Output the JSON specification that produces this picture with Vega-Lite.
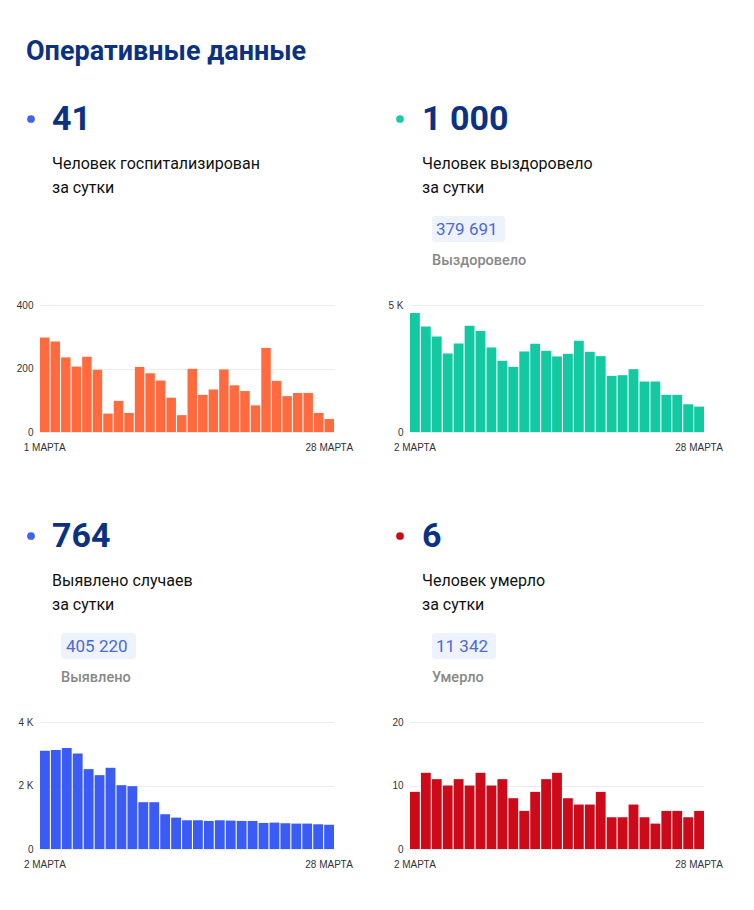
{
  "$schema": "https://vega.github.io/schema/vega-lite/v6.json",
  "background": "white",
  "padding": {"left": 16, "top": 38, "right": 0, "bottom": 0},
  "title": {"text": "Оперативные данные", "anchor": "start", "frame": "group", "font": "Roboto", "fontSize": 27, "fontWeight": "bold", "color": "#0b3282", "offset": 30, "dx": -14},
  "config": {
    "view": {"stroke": null},
    "axis": {"labelFont": "Liberation Sans", "labelFontSize": 10, "labelColor": "#333333", "domain": false, "ticks": false, "title": null, "gridColor": "#ececec", "labelOverlap": false}
  },
  "datasets": {
    "kpi": [
      {"metric": "hosp", "value": "41", "line1": "Человек госпитализирован", "line2": "за сутки", "total": "", "caption": ""},
      {"metric": "recov", "value": "1 000", "line1": "Человек выздоровело", "line2": "за сутки", "total": "379 691", "caption": "Выздоровело"},
      {"metric": "cases", "value": "764", "line1": "Выявлено случаев", "line2": "за сутки", "total": "405 220", "caption": "Выявлено"},
      {"metric": "deaths", "value": "6", "line1": "Человек умерло", "line2": "за сутки", "total": "11 342", "caption": "Умерло"}
    ],
    "hosp": [
      {"day": 1, "v": 298}, {"day": 2, "v": 285}, {"day": 3, "v": 235}, {"day": 4, "v": 206}, {"day": 5, "v": 237}, {"day": 6, "v": 196}, {"day": 7, "v": 58},
      {"day": 8, "v": 98}, {"day": 9, "v": 60}, {"day": 10, "v": 205}, {"day": 11, "v": 185}, {"day": 12, "v": 162}, {"day": 13, "v": 108}, {"day": 14, "v": 53},
      {"day": 15, "v": 199}, {"day": 16, "v": 117}, {"day": 17, "v": 134}, {"day": 18, "v": 197}, {"day": 19, "v": 147}, {"day": 20, "v": 129}, {"day": 21, "v": 84},
      {"day": 22, "v": 265}, {"day": 23, "v": 161}, {"day": 24, "v": 113}, {"day": 25, "v": 123}, {"day": 26, "v": 123}, {"day": 27, "v": 60}, {"day": 28, "v": 41}
    ],
    "recov": [
      {"day": 2, "v": 4684}, {"day": 3, "v": 4158}, {"day": 4, "v": 3763}, {"day": 5, "v": 3092}, {"day": 6, "v": 3487}, {"day": 7, "v": 4184}, {"day": 8, "v": 3974},
      {"day": 9, "v": 3329}, {"day": 10, "v": 2803}, {"day": 11, "v": 2566}, {"day": 12, "v": 3171}, {"day": 13, "v": 3474}, {"day": 14, "v": 3197}, {"day": 15, "v": 2974},
      {"day": 16, "v": 3079}, {"day": 17, "v": 3592}, {"day": 18, "v": 3158}, {"day": 19, "v": 2987}, {"day": 20, "v": 2211}, {"day": 21, "v": 2237}, {"day": 22, "v": 2474},
      {"day": 23, "v": 1987}, {"day": 24, "v": 1987}, {"day": 25, "v": 1461}, {"day": 26, "v": 1461}, {"day": 27, "v": 1092}, {"day": 28, "v": 1000}
    ],
    "cases": [
      {"day": 2, "v": 3095}, {"day": 3, "v": 3116}, {"day": 4, "v": 3179}, {"day": 5, "v": 3011}, {"day": 6, "v": 2516}, {"day": 7, "v": 2326}, {"day": 8, "v": 2558},
      {"day": 9, "v": 2011}, {"day": 10, "v": 1979}, {"day": 11, "v": 1474}, {"day": 12, "v": 1474}, {"day": 13, "v": 1095}, {"day": 14, "v": 989}, {"day": 15, "v": 905},
      {"day": 16, "v": 905}, {"day": 17, "v": 884}, {"day": 18, "v": 905}, {"day": 19, "v": 895}, {"day": 20, "v": 884}, {"day": 21, "v": 884}, {"day": 22, "v": 821},
      {"day": 23, "v": 832}, {"day": 24, "v": 811}, {"day": 25, "v": 800}, {"day": 26, "v": 800}, {"day": 27, "v": 779}, {"day": 28, "v": 764}
    ],
    "deaths": [
      {"day": 2, "v": 9}, {"day": 3, "v": 12}, {"day": 4, "v": 11}, {"day": 5, "v": 10}, {"day": 6, "v": 11}, {"day": 7, "v": 10}, {"day": 8, "v": 12},
      {"day": 9, "v": 10}, {"day": 10, "v": 11}, {"day": 11, "v": 8}, {"day": 12, "v": 6}, {"day": 13, "v": 9}, {"day": 14, "v": 11}, {"day": 15, "v": 12},
      {"day": 16, "v": 8}, {"day": 17, "v": 7}, {"day": 18, "v": 7}, {"day": 19, "v": 9}, {"day": 20, "v": 5}, {"day": 21, "v": 5}, {"day": 22, "v": 7},
      {"day": 23, "v": 5}, {"day": 24, "v": 4}, {"day": 25, "v": 6}, {"day": 26, "v": 6}, {"day": 27, "v": 5}, {"day": 28, "v": 6}
    ]
  },
  "bounds": "flush",
  "align": "each",
  "columns": 2,
  "spacing": {"row": 19, "column": 76},
  "concat": [
    {
      "width": 294, "height": 190,
      "data": {"name": "kpi"},
      "transform": [{"filter": "datum.metric == 'hosp'"}],
      "layer": [
        {"mark": {"type": "point", "filled": true, "opacity": 1, "size": 60, "color": "#3f63ea"}, "encoding": {"x": {"value": -9}, "y": {"value": 23}}},
        {"mark": {"type": "text", "font": "Roboto", "fontSize": 34, "fontWeight": "bold", "color": "#0b3282", "align": "left", "baseline": "alphabetic"}, "encoding": {"x": {"value": 12}, "y": {"value": 34}, "text": {"field": "value"}}},
        {"mark": {"type": "text", "font": "Roboto", "fontSize": 16, "color": "#111111", "align": "left", "baseline": "alphabetic"}, "encoding": {"x": {"value": 12}, "y": {"value": 73}, "text": {"field": "line1"}}},
        {"mark": {"type": "text", "font": "Roboto", "fontSize": 16, "color": "#111111", "align": "left", "baseline": "alphabetic"}, "encoding": {"x": {"value": 12}, "y": {"value": 97}, "text": {"field": "line2"}}}
      ]
    },
    {
      "width": 294, "height": 190,
      "data": {"name": "kpi"},
      "transform": [{"filter": "datum.metric == 'recov'"}],
      "layer": [
        {"mark": {"type": "point", "filled": true, "opacity": 1, "size": 60, "color": "#1ec9a6"}, "encoding": {"x": {"value": -10}, "y": {"value": 23}}},
        {"mark": {"type": "text", "font": "Roboto", "fontSize": 34, "fontWeight": "bold", "color": "#0b3282", "align": "left", "baseline": "alphabetic"}, "encoding": {"x": {"value": 12}, "y": {"value": 34}, "text": {"field": "value"}}},
        {"mark": {"type": "text", "font": "Roboto", "fontSize": 16, "color": "#111111", "align": "left", "baseline": "alphabetic"}, "encoding": {"x": {"value": 12}, "y": {"value": 73}, "text": {"field": "line1"}}},
        {"mark": {"type": "text", "font": "Roboto", "fontSize": 16, "color": "#111111", "align": "left", "baseline": "alphabetic"}, "encoding": {"x": {"value": 12}, "y": {"value": 97}, "text": {"field": "line2"}}},
        {"mark": {"type": "rect", "color": "#eef2fc", "cornerRadius": 3}, "encoding": {"x": {"value": 22}, "x2": {"value": 95}, "y": {"value": 120}, "y2": {"value": 146}}},
        {"mark": {"type": "text", "font": "Roboto", "fontSize": 17, "color": "#4a6ad6", "align": "left", "baseline": "alphabetic"}, "encoding": {"x": {"value": 26}, "y": {"value": 139}, "text": {"field": "total"}}},
        {"mark": {"type": "text", "font": "Roboto", "fontSize": 14.5, "fontWeight": 500, "color": "#888888", "align": "left", "baseline": "alphabetic"}, "encoding": {"x": {"value": 22}, "y": {"value": 169}, "text": {"field": "caption"}}}
      ]
    },
    {
      "width": 294, "height": 127,
      "data": {"name": "hosp"},
      "mark": {"type": "bar", "color": "#ff6a3f"},
      "encoding": {
        "x": {"field": "day", "type": "ordinal", "scale": {"paddingInner": 0.1, "paddingOuter": 0}, "axis": {"values": [1, 28], "labelExpr": "datum.value + ' МАРТА'", "labelAngle": 0, "labelPadding": 10, "grid": false}},
        "y": {"field": "v", "type": "quantitative", "scale": {"domain": [0, 400]}, "axis": {"values": [0, 200, 400], "labelPadding": 7}}
      }
    },
    {
      "width": 294, "height": 127,
      "data": {"name": "recov"},
      "mark": {"type": "bar", "color": "#12c9a1"},
      "encoding": {
        "x": {"field": "day", "type": "ordinal", "scale": {"paddingInner": 0.1, "paddingOuter": 0}, "axis": {"values": [2, 28], "labelExpr": "datum.value + ' МАРТА'", "labelAngle": 0, "labelPadding": 10, "grid": false}},
        "y": {"field": "v", "type": "quantitative", "scale": {"domain": [0, 5000]}, "axis": {"values": [0, 5000], "labelPadding": 7, "labelExpr": "datum.value == 0 ? '0' : (datum.value / 1000) + ' K'"}}
      }
    },
    {
      "width": 294, "height": 252,
      "data": {"name": "kpi"},
      "transform": [{"filter": "datum.metric == 'cases'"}],
      "layer": [
        {"mark": {"type": "point", "filled": true, "opacity": 1, "size": 60, "color": "#3f63ea"}, "encoding": {"x": {"value": -9}, "y": {"value": 85}}},
        {"mark": {"type": "text", "font": "Roboto", "fontSize": 34, "fontWeight": "bold", "color": "#0b3282", "align": "left", "baseline": "alphabetic"}, "encoding": {"x": {"value": 12}, "y": {"value": 96}, "text": {"field": "value"}}},
        {"mark": {"type": "text", "font": "Roboto", "fontSize": 16, "color": "#111111", "align": "left", "baseline": "alphabetic"}, "encoding": {"x": {"value": 12}, "y": {"value": 135}, "text": {"field": "line1"}}},
        {"mark": {"type": "text", "font": "Roboto", "fontSize": 16, "color": "#111111", "align": "left", "baseline": "alphabetic"}, "encoding": {"x": {"value": 12}, "y": {"value": 159}, "text": {"field": "line2"}}},
        {"mark": {"type": "rect", "color": "#eef2fc", "cornerRadius": 3}, "encoding": {"x": {"value": 21}, "x2": {"value": 96}, "y": {"value": 182}, "y2": {"value": 208}}},
        {"mark": {"type": "text", "font": "Roboto", "fontSize": 17, "color": "#4a6ad6", "align": "left", "baseline": "alphabetic"}, "encoding": {"x": {"value": 26}, "y": {"value": 201}, "text": {"field": "total"}}},
        {"mark": {"type": "text", "font": "Roboto", "fontSize": 14.5, "fontWeight": 500, "color": "#888888", "align": "left", "baseline": "alphabetic"}, "encoding": {"x": {"value": 21}, "y": {"value": 231}, "text": {"field": "caption"}}}
      ]
    },
    {
      "width": 294, "height": 252,
      "data": {"name": "kpi"},
      "transform": [{"filter": "datum.metric == 'deaths'"}],
      "layer": [
        {"mark": {"type": "point", "filled": true, "opacity": 1, "size": 60, "color": "#cc0a1a"}, "encoding": {"x": {"value": -10}, "y": {"value": 85}}},
        {"mark": {"type": "text", "font": "Roboto", "fontSize": 34, "fontWeight": "bold", "color": "#0b3282", "align": "left", "baseline": "alphabetic"}, "encoding": {"x": {"value": 12}, "y": {"value": 96}, "text": {"field": "value"}}},
        {"mark": {"type": "text", "font": "Roboto", "fontSize": 16, "color": "#111111", "align": "left", "baseline": "alphabetic"}, "encoding": {"x": {"value": 12}, "y": {"value": 135}, "text": {"field": "line1"}}},
        {"mark": {"type": "text", "font": "Roboto", "fontSize": 16, "color": "#111111", "align": "left", "baseline": "alphabetic"}, "encoding": {"x": {"value": 12}, "y": {"value": 159}, "text": {"field": "line2"}}},
        {"mark": {"type": "rect", "color": "#eef2fc", "cornerRadius": 3}, "encoding": {"x": {"value": 22}, "x2": {"value": 86}, "y": {"value": 182}, "y2": {"value": 208}}},
        {"mark": {"type": "text", "font": "Roboto", "fontSize": 17, "color": "#4a6ad6", "align": "left", "baseline": "alphabetic"}, "encoding": {"x": {"value": 26}, "y": {"value": 201}, "text": {"field": "total"}}},
        {"mark": {"type": "text", "font": "Roboto", "fontSize": 14.5, "fontWeight": 500, "color": "#888888", "align": "left", "baseline": "alphabetic"}, "encoding": {"x": {"value": 22}, "y": {"value": 231}, "text": {"field": "caption"}}}
      ]
    },
    {
      "width": 294, "height": 127,
      "data": {"name": "cases"},
      "mark": {"type": "bar", "color": "#3a5cf5"},
      "encoding": {
        "x": {"field": "day", "type": "ordinal", "scale": {"paddingInner": 0.1, "paddingOuter": 0}, "axis": {"values": [2, 28], "labelExpr": "datum.value + ' МАРТА'", "labelAngle": 0, "labelPadding": 10, "grid": false}},
        "y": {"field": "v", "type": "quantitative", "scale": {"domain": [0, 4000]}, "axis": {"values": [0, 2000, 4000], "labelPadding": 7, "labelExpr": "datum.value == 0 ? '0' : (datum.value / 1000) + ' K'"}}
      }
    },
    {
      "width": 294, "height": 127,
      "data": {"name": "deaths"},
      "mark": {"type": "bar", "color": "#cc0a1a"},
      "encoding": {
        "x": {"field": "day", "type": "ordinal", "scale": {"paddingInner": 0.1, "paddingOuter": 0}, "axis": {"values": [2, 28], "labelExpr": "datum.value + ' МАРТА'", "labelAngle": 0, "labelPadding": 10, "grid": false}},
        "y": {"field": "v", "type": "quantitative", "scale": {"domain": [0, 20]}, "axis": {"values": [0, 10, 20], "labelPadding": 7}}
      }
    }
  ]
}
